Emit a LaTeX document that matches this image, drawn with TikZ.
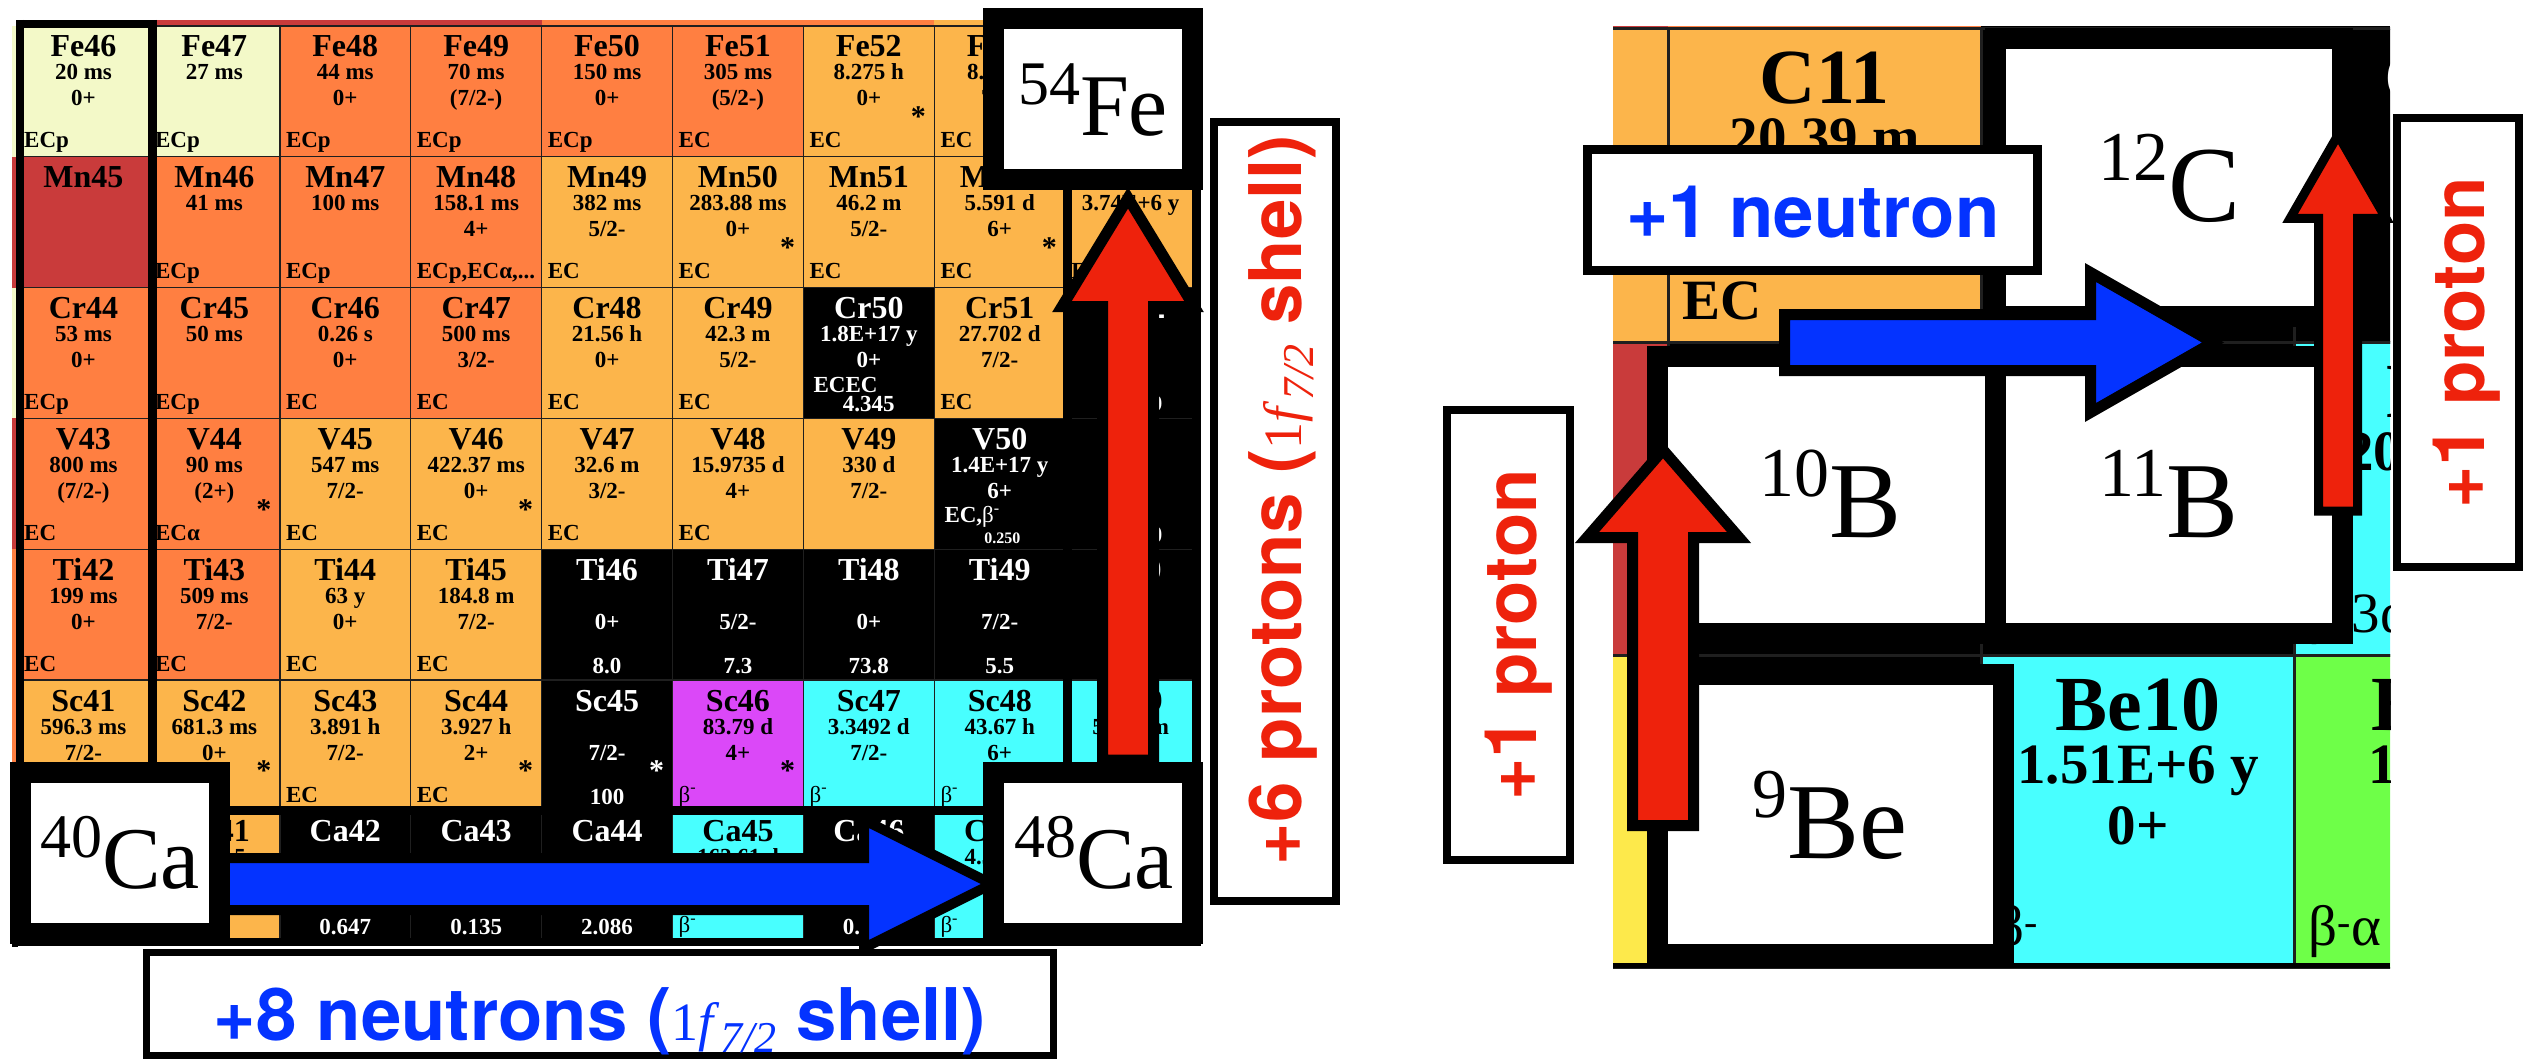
\documentclass[tikz,border=0pt]{standalone}
\usepackage{fontspec}
\setmainfont{Liberation Serif}
\setsansfont{TeX Gyre Heros}
\usetikzlibrary{calc}
\definecolor{cLY}{HTML}{F3F9C8}
\definecolor{cOR}{HTML}{FF7F41}
\definecolor{cLO}{HTML}{FCB54B}
\definecolor{cDR}{HTML}{C93B3B}
\definecolor{cCY}{HTML}{48FFFF}
\definecolor{cMG}{HTML}{DB48F8}
\definecolor{cGR}{HTML}{6EFF48}
\definecolor{cYE}{HTML}{FDE94B}
\definecolor{cBL}{HTML}{0433FF}
\definecolor{cRD}{HTML}{EE220C}
\newcommand\fsz[1]{\fontsize{#1}{#1}\selectfont}
\newcommand\fshell{{\rmfamily\mdseries\fsz{54}1\textit{f}\raisebox{-12pt}{\fsz{44}\textit{7/2}}}}
\tikzset{
 cellline/.style={draw=black!88, line width=1.4pt},
 celllineR/.style={draw=black!88, line width=3pt},
 nmL/.style={font=\bfseries\fsz{32}, anchor=base, inner sep=0pt},
 txL/.style={font=\bfseries\fsz{23}, anchor=base, inner sep=0pt},
 dcL/.style={font=\bfseries\fsz{23}, anchor=base west, inner sep=0pt},
 smL/.style={font=\bfseries\fsz{16}, anchor=base, inner sep=0pt},
 stL/.style={font=\bfseries\fsz{30}, anchor=center, inner sep=0pt},
 nmR/.style={font=\bfseries\fsz{78}, anchor=base, inner sep=0pt},
 txR/.style={font=\bfseries\fsz{57}, anchor=base, inner sep=0pt},
 dcR/.style={font=\bfseries\fsz{57}, anchor=base west, inner sep=0pt},
 magic/.style={draw=black, line width=8.5pt},
 isobox/.style={draw=black, fill=white, line width=21pt, inner sep=0pt},
 isotxtL/.style={font=\fsz{88}, anchor=base, inner sep=0pt},
 isotxtR/.style={font=\fsz{108}, anchor=base, inner sep=0pt},
 lblbox/.style={draw=black, fill=white, line width=8pt, inner sep=0pt},
 lbltxt/.style={font=\sffamily\bfseries\fsz{72.6}, anchor=base, inner sep=0pt},
 fatarrow/.style={draw=black, line join=miter, miter limit=20},
}
% left chart cell: col,row,fill,textcolour,name,half-life,spin,decay,extra
\newcommand\LC[9]{\def\cn{#5}\begin{scope}[shift={(18+130.9*#1,26+130.8*#2)}]
 \path[fill=#3] (0,0) rectangle (130.9,130.8);
 \draw[cellline] (0,0) rectangle (130.9,130.8);
 \node[nmL,text=#4] (#5) at (65.45,31) {#5};
 \node[txL,text=#4] (#5-h) at (65.45,54) {#6};
 \node[txL,text=#4] (#5-s) at (65.45,80) {#7};
 \node[dcL,text=#4] (#5-d) at (6,122) {#8};
 #9\end{scope}}
\newcommand\st{\node[stL,text=black] (\cn-st) at (115,91) {*};}
\newcommand\stw{\node[stL,text=white] (\cn-st) at (115,91) {*};}
\newcommand\ab[1]{\node[txL,text=white] (\cn-ab) at (65.45,124) {#1};}
% right chart cell
\newcommand\RC[9]{\def\cn{#5}\begin{scope}[shift={(1355+313.2*#1,29+313*#2)}]
 \path[fill=#3] (0,0) rectangle (313.2,313);
 \draw[celllineR] (0,0) rectangle (313.2,313);
 \node[nmR,text=#4] (#5) at (156.6,75) {#5};
 \node[txR,text=#4] (#5-h) at (156.6,128) {#6};
 \node[txR,text=#4] (#5-s) at (156.6,189) {#7};
 \node[dcR,text=#4] (#5-d) at (14,290) {#8};
 #9\end{scope}}
\newcommand\abR[1]{\node[txR,text=white] (\cn-ab) at (156.6,290) {#1};}
\newcommand\bm{{\mdseries β\textsuperscript{-}}}
\newcommand\bmx[1]{{\mdseries β\textsuperscript{-}#1}}
% fat arrows: start, tip, shaft half width, head half width, head length
\newcommand\uparr[5]{($(#1)+(-#3,0)$) -- ($(#2)+(-#3,#5)$) -- ($(#2)+(-#4,#5)$) -- (#2) -- ($(#2)+(#4,#5)$) -- ($(#2)+(#3,#5)$) -- ($(#1)+(#3,0)$) -- cycle}
\newcommand\rtarr[5]{($(#1)+(0,-#3)$) -- ($(#2)+(-#5,-#3)$) -- ($(#2)+(-#5,-#4)$) -- (#2) -- ($(#2)+(-#5,#4)$) -- ($(#2)+(-#5,#3)$) -- ($(#1)+(0,#3)$) -- cycle}
\begin{document}
\begin{tikzpicture}[x=1pt,y=-1pt]
\useasboundingbox[fill=white] (0,0) rectangle (2531,1059);
% ================= LEFT CHART =================
\begin{scope}
\clip (12,20) rectangle (1201,947);
\fill[cDR] (149,20) rectangle (542,26);
\fill[cOR] (542,20) rectangle (934,26);
\fill[cLO] (934,20) rectangle (1066,26);
\fill[cLY] (12,26) rectangle (18,157);
\fill[cDR] (12,157) rectangle (18,288);
\fill[cLY] (12,288) rectangle (18,418);
\fill[cDR] (12,418) rectangle (18,549);
\fill[cOR] (12,549) rectangle (18,811);
\fill[black] (12,811) rectangle (18,947);
% Fe
\LC{0}{0}{cLY}{black}{Fe46}{20 ms}{0+}{ECp}{}
\LC{1}{0}{cLY}{black}{Fe47}{27 ms}{}{ECp}{}
\LC{2}{0}{cOR}{black}{Fe48}{44 ms}{0+}{ECp}{}
\LC{3}{0}{cOR}{black}{Fe49}{70 ms}{(7/2-)}{ECp}{}
\LC{4}{0}{cOR}{black}{Fe50}{150 ms}{0+}{ECp}{}
\LC{5}{0}{cOR}{black}{Fe51}{305 ms}{(5/2-)}{EC}{}
\LC{6}{0}{cLO}{black}{Fe52}{8.275 h}{0+}{EC}{\st}
\LC{7}{0}{cLO}{black}{Fe53}{8.51 m}{7/2-}{EC}{}
\LC{8}{0}{black}{white}{Fe54}{}{0+}{}{}
% Mn
\LC{0}{1}{cDR}{black}{Mn45}{}{}{}{}
\LC{1}{1}{cOR}{black}{Mn46}{41 ms}{}{ECp}{}
\LC{2}{1}{cOR}{black}{Mn47}{100 ms}{}{ECp}{}
\LC{3}{1}{cOR}{black}{Mn48}{158.1 ms}{4+}{ECp,ECα,...}{}
\LC{4}{1}{cLO}{black}{Mn49}{382 ms}{5/2-}{EC}{}
\LC{5}{1}{cLO}{black}{Mn50}{283.88 ms}{0+}{EC}{\st}
\LC{6}{1}{cLO}{black}{Mn51}{46.2 m}{5/2-}{EC}{}
\LC{7}{1}{cLO}{black}{Mn52}{5.591 d}{6+}{EC}{\st}
\LC{8}{1}{cLO}{black}{Mn53}{3.74E+6 y}{7/2-}{EC}{}
% Cr
\LC{0}{2}{cOR}{black}{Cr44}{53 ms}{0+}{ECp}{}
\LC{1}{2}{cOR}{black}{Cr45}{50 ms}{}{ECp}{}
\LC{2}{2}{cOR}{black}{Cr46}{0.26 s}{0+}{EC}{}
\LC{3}{2}{cOR}{black}{Cr47}{500 ms}{3/2-}{EC}{}
\LC{4}{2}{cLO}{black}{Cr48}{21.56 h}{0+}{EC}{}
\LC{5}{2}{cLO}{black}{Cr49}{42.3 m}{5/2-}{EC}{}
\LC{6}{2}{black}{white}{Cr50}{1.8E+17 y}{0+}{}{\node[dcL,text=white] (\cn-ec) at (10,105) {ECEC};\ab{4.345}}
\LC{7}{2}{cLO}{black}{Cr51}{27.702 d}{7/2-}{EC}{}
\LC{8}{2}{black}{white}{Cr52}{}{0+}{}{\ab{83.789}}
% V
\LC{0}{3}{cOR}{black}{V43}{800 ms}{(7/2-)}{EC}{}
\LC{1}{3}{cOR}{black}{V44}{90 ms}{(2+)}{ECα}{\st}
\LC{2}{3}{cLO}{black}{V45}{547 ms}{7/2-}{EC}{}
\LC{3}{3}{cLO}{black}{V46}{422.37 ms}{0+}{EC}{\st}
\LC{4}{3}{cLO}{black}{V47}{32.6 m}{3/2-}{EC}{}
\LC{5}{3}{cLO}{black}{V48}{15.9735 d}{4+}{EC}{}
\LC{6}{3}{cLO}{black}{V49}{330 d}{7/2-}{}{}
\LC{7}{3}{black}{white}{V50}{1.4E+17 y}{6+}{}{\node[dcL,text=white] (\cn-ec) at (10,104) {EC,\bm};\node[smL,text=white] (\cn-ab) at (68,125) {0.250};}
\LC{8}{3}{black}{white}{V51}{}{7/2-}{}{\ab{99.750}}
% Ti
\LC{0}{4}{cOR}{black}{Ti42}{199 ms}{0+}{EC}{}
\LC{1}{4}{cOR}{black}{Ti43}{509 ms}{7/2-}{EC}{}
\LC{2}{4}{cLO}{black}{Ti44}{63 y}{0+}{EC}{}
\LC{3}{4}{cLO}{black}{Ti45}{184.8 m}{7/2-}{EC}{}
\LC{4}{4}{black}{white}{Ti46}{}{0+}{}{\ab{8.0}}
\LC{5}{4}{black}{white}{Ti47}{}{5/2-}{}{\ab{7.3}}
\LC{6}{4}{black}{white}{Ti48}{}{0+}{}{\ab{73.8}}
\LC{7}{4}{black}{white}{Ti49}{}{7/2-}{}{\ab{5.5}}
\LC{8}{4}{black}{white}{Ti50}{}{0+}{}{\ab{5.4}}
% Sc
\LC{0}{5}{cLO}{black}{Sc41}{596.3 ms}{7/2-}{EC}{}
\LC{1}{5}{cLO}{black}{Sc42}{681.3 ms}{0+}{EC}{\st}
\LC{2}{5}{cLO}{black}{Sc43}{3.891 h}{7/2-}{EC}{}
\LC{3}{5}{cLO}{black}{Sc44}{3.927 h}{2+}{EC}{\st}
\LC{4}{5}{black}{white}{Sc45}{}{7/2-}{}{\stw\ab{100}}
\LC{5}{5}{cMG}{black}{Sc46}{83.79 d}{4+}{\bm}{\st}
\LC{6}{5}{cCY}{black}{Sc47}{3.3492 d}{7/2-}{\bm}{}
\LC{7}{5}{cCY}{black}{Sc48}{43.67 h}{6+}{\bm}{}
\LC{8}{5}{cCY}{black}{Sc49}{57.18 m}{7/2-}{\bm}{}
% Ca
\LC{0}{6}{black}{white}{Ca40}{}{0+}{}{}
\LC{1}{6}{cLO}{black}{Ca41}{1.02E+5 y}{7/2-}{EC}{}
\LC{2}{6}{black}{white}{Ca42}{}{0+}{}{\ab{0.647}}
\LC{3}{6}{black}{white}{Ca43}{}{7/2-}{}{\ab{0.135}}
\LC{4}{6}{black}{white}{Ca44}{}{0+}{}{\ab{2.086}}
\LC{5}{6}{cCY}{black}{Ca45}{162.61 d}{7/2-}{\bm}{}
\LC{6}{6}{black}{white}{Ca46}{}{0+}{}{\ab{0.004}}
\LC{7}{6}{cCY}{black}{Ca47}{4.536 d}{7/2-}{\bm}{}
\LC{8}{6}{black}{white}{Ca48}{}{0+}{}{}
% magic-number frames
\draw[magic] (20,20) -- (20,812);
\draw[magic] (152.5,20) -- (152.5,812);
\draw[magic] (16,24) -- (156.5,24);
\draw[magic] (1067.5,20) -- (1067.5,812);
\draw[magic] (1196.5,20) -- (1196.5,812);
\draw[magic] (12,810.5) -- (1201,810.5);
\draw[magic] (12,942) -- (1201,942);
\end{scope}
% left arrows
\coordinate (bLs) at (220,884);
\coordinate (bLt) at (992,884);
\draw[fatarrow, line width=10pt, fill=cBL] \rtarr{bLs}{bLt}{26}{64}{128};
\coordinate (rLs) at (1128,760);
\coordinate (rLt) at (1128,198);
\draw[fatarrow, line width=11pt, fill=cRD] \uparr{rLs}{rLt}{25.5}{66}{108.5};
% left boxes
\node[isobox, minimum width=199pt, minimum height=161pt] (Ca40box) at (120,853) {};
\node[isobox, minimum width=199pt, minimum height=161pt] (Ca48box) at (1093,853) {};
\node[isobox, minimum width=199pt, minimum height=161pt] (Fe54box) at (1093,99) {};
\node[isotxtL] (Ca40lbl) at (120,888) {\raisebox{31pt}{\fsz{62}40}Ca};
\node[isotxtL] (Ca48lbl) at (1094,888) {\raisebox{31pt}{\fsz{62}48}Ca};
\node[isotxtL] (Fe54lbl) at (1093,136) {\raisebox{31pt}{\fsz{62}54}Fe};
% left labels
\node[lblbox, line width=7pt, minimum width=907pt, minimum height=103pt] (nlab) at (600,1004) {};
\node[lbltxt, text=cBL] (nlabt) at (600,1040) {+8 neutrons (\fshell{} shell)};
\node[lblbox, minimum width=122pt, minimum height=779pt] (plab) at (1275,511.5) {};
\node[lbltxt, text=cRD, rotate=90] (plabt) at (1301,500) {+6 protons (\fshell{} shell)};
% ================= RIGHT CHART =================
\begin{scope}
\clip (1613,26) rectangle (2390,968);
\fill[cDR] (1613,26) rectangle (1668,29);
\fill[cOR] (1668,26) rectangle (1981,29);
\fill[black] (1981,26) rectangle (2390,29);
\fill[cLO] (1355,29) rectangle (1668,342);
\fill[cDR] (1355,342) rectangle (1668,655);
\fill[cYE] (1355,655) rectangle (1668,968);
\draw[celllineR] (1355,29) rectangle (1668,342);
\draw[celllineR] (1355,342) rectangle (1668,655);
\draw[celllineR] (1355,655) rectangle (1668,968);
\RC{1}{0}{cLO}{black}{C11}{20.39 m}{3/2-}{EC}{}
\RC{1}{1}{black}{white}{B10}{}{3+}{}{}
\RC{1}{2}{black}{white}{Be9}{}{3/2-}{}{}
\RC{2}{0}{black}{white}{C12}{}{0+}{}{}
\RC{2}{1}{black}{white}{B11}{}{3/2-}{}{}
\RC{2}{2}{cCY}{black}{Be10}{1.51E+6 y}{0+}{\bm}{}
\RC{3}{0}{black}{white}{C13}{}{1/2-}{}{\abR{1.07}}
\RC{3}{1}{cCY}{black}{B12}{20.20 ms}{1+}{\bmx{3α}}{}
\RC{3}{2}{cGR}{black}{Be11}{13.76 s}{1/2+}{\bmx{α}}{}
\draw[line width=5pt] (1613,965.5) -- (2390,965.5);
\end{scope}
% right boxes
\node[isobox, minimum width=347pt, minimum height=278pt] (C12box) at (2169,177.5) {};
\node[isobox, minimum width=347pt, minimum height=277pt] (B11box) at (2169,495) {};
\node[isobox, minimum width=338pt, minimum height=277pt] (B10box) at (1826.5,495) {};
\node[isobox, minimum width=346pt, minimum height=280pt] (Be9box) at (1830.5,814.5) {};
\node[isotxtR] (C12lbl) at (2169,222) {\raisebox{41pt}{\fsz{70}12}C};
\node[isotxtR] (B11lbl) at (2169,537) {\raisebox{41pt}{\fsz{70}11}B};
\node[isotxtR] (B10lbl) at (1830,537) {\raisebox{41pt}{\fsz{70}10}B};
\node[isotxtR] (Be9lbl) at (1830,858) {\raisebox{41pt}{\fsz{70}9}Be};
% right arrows
\coordinate (bRs) at (1784.5,342.5);
\coordinate (bRt) at (2213,342.5);
\draw[fatarrow, line width=11pt, fill=cBL] \rtarr{bRs}{bRt}{28}{70}{122.5};
\coordinate (rRs) at (2338,511);
\coordinate (rRt) at (2338,135);
\draw[fatarrow, line width=9pt, fill=cRD] \uparr{rRs}{rRt}{19.5}{48}{83.5};
\coordinate (rQs) at (1663,825.5);
\coordinate (rQt) at (1663,450);
\draw[fatarrow, line width=11pt, fill=cRD] \uparr{rQs}{rQt}{30.5}{76}{87.5};
% right labels
\node[lblbox, line width=9pt, minimum width=450pt, minimum height=121pt] (nRlab) at (1812.5,210) {};
\node[lbltxt, text=cBL] (nRlabt) at (1813,238) {+1 neutron};
\node[lblbox, minimum width=122pt, minimum height=449pt] (pRlab) at (2458,342.5) {};
\node[lbltxt, text=cRD, rotate=90] (pRlabt) at (2484,343) {+1 proton};
\node[lblbox, minimum width=123pt, minimum height=450pt] (pLlab) at (1508.5,635) {};
\node[lbltxt, text=cRD, rotate=90] (pLlabt) at (1536,635) {+1 proton};
\end{tikzpicture}
\end{document}
